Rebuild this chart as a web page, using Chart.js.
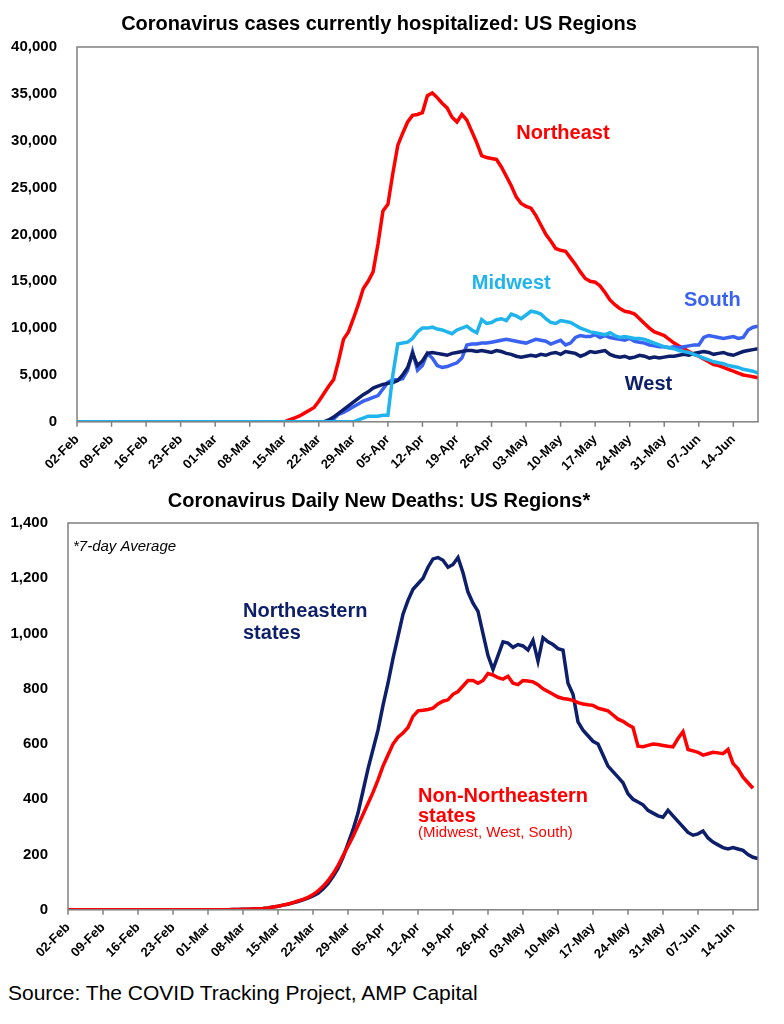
<!DOCTYPE html>
<html><head><meta charset="utf-8">
<script src="https://cdn.jsdelivr.net/npm/chart.js@4"></script>
<style>
body{margin:0;width:784px;height:1024px;background:#fff;position:relative;font-family:Arial,"Liberation Sans",sans-serif}
#c1{position:absolute;left:0;top:0}
#c2{position:absolute;left:0;top:470px}
#src{position:absolute;left:8px;top:981px;font-size:21px;color:#000}
</style></head><body>
<canvas id="c1" width="784" height="476"></canvas>
<canvas id="c2" width="784" height="494"></canvas>
<div id="src">Source: The COVID Tracking Project, AMP Capital</div>
<script>
const START = new Date(2020,1,2);
const N_DAYS = 139;
const MONTHS = ['Jan','Feb','Mar','Apr','May','Jun','Jul'];
function pad(arr, startDay){ const out=[]; for(let i=0;i<startDay;i++) out.push(0); return out.concat(arr); }

// Hospitalized (thousands), from given start day
const northeastHosp = pad([0.2,0.4,0.6,0.9,1.2,1.5,2.2,3.0,3.8,4.5,6.5,8.8,9.6,11.0,12.5,14.2,15.0,16.0,19.0,22.5,23.2,26.5,29.5,30.8,32.0,32.7,32.8,33.0,34.8,35.1,34.6,34.0,33.5,32.5,32.0,32.8,32.2,31.0,29.8,28.4,28.2,28.1,28.0,27.2,26.2,25.2,24.0,23.3,23.0,22.8,22.0,21.0,20.0,19.3,18.5,18.3,18.2,17.5,16.8,16.0,15.3,15.0,14.9,14.5,13.8,13.0,12.5,12.1,11.8,11.7,11.5,11.0,10.5,10.0,9.6,9.4,9.2,8.8,8.4,8.1,7.8,7.5,7.2,7.0,6.7,6.4,6.1,6.0,5.8,5.6,5.4,5.2,5.0,4.9,4.8,4.7],43);
const midwestHosp = pad([0.2,0.4,0.6,0.6,0.6,0.7,0.7,5.0,8.3,8.4,8.5,8.9,9.6,10.0,10.0,10.1,9.9,9.8,9.6,9.4,9.8,10.0,10.2,9.8,9.5,10.9,10.5,10.6,10.9,11.0,10.8,11.5,11.3,11.0,11.4,11.8,11.7,11.5,11.0,10.6,10.5,10.8,10.7,10.6,10.3,10.0,9.8,9.6,9.5,9.4,9.3,9.5,9.2,9.0,9.1,9.0,8.9,8.9,8.8,8.6,8.4,8.2,8.0,7.9,7.8,7.6,7.5,7.4,7.2,7.0,6.8,6.6,6.4,6.3,6.2,6.0,5.9,5.8,5.6,5.5,5.4,5.2],57);
const southHosp = pad([0.3,0.8,1.0,1.3,1.6,1.9,2.2,2.4,2.6,2.8,3.5,4.2,4.5,4.5,4.6,5.5,7.5,5.5,6.0,7.3,6.8,6.0,5.8,5.9,6.1,6.3,6.8,8.2,8.3,8.3,8.4,8.4,8.5,8.6,8.7,8.8,8.7,8.6,8.5,8.4,8.6,8.8,8.7,8.6,8.3,8.5,8.7,8.2,8.4,9.0,9.2,9.1,9.1,9.3,9.0,9.2,9.0,8.9,8.8,8.7,8.9,8.6,8.5,8.4,8.2,8.1,8.0,8.0,7.9,8.0,7.9,8.0,8.1,8.2,8.2,9.0,9.2,9.1,9.0,8.9,9.0,9.1,8.9,9.0,9.8,10.1,10.2],52);
const westHosp = pad([0.2,0.5,0.9,1.3,1.7,2.1,2.5,2.9,3.2,3.6,3.8,4.0,4.1,4.2,4.4,5.0,5.8,7.3,6.0,6.5,7.3,7.4,7.3,7.2,7.1,7.3,7.4,7.5,7.6,7.6,7.5,7.6,7.5,7.4,7.6,7.5,7.3,7.2,7.0,6.9,7.0,7.1,7.0,7.2,7.1,7.3,7.4,7.2,7.5,7.4,7.3,7.0,7.2,7.5,7.4,7.5,7.6,7.2,7.0,6.9,7.0,6.8,6.9,7.1,7.0,6.8,6.9,6.8,6.9,7.0,7.0,7.1,7.2,7.1,7.3,7.4,7.5,7.4,7.2,7.3,7.4,7.2,7.1,7.3,7.5,7.6,7.7,7.8],51);

// Deaths (7-day avg)
const neDeaths = pad([0,0,0,0,0,0,0,0,0,0,0,0,0,0,0,0,0,0,0,0,0,0,0,0,0,0,1,1,2,2,3,4,5,7,10,13,17,20,25,30,36,42,50,60,75,95,120,150,190,240,290,350,430,510,580,650,740,820,910,990,1070,1120,1160,1180,1200,1240,1270,1275,1265,1240,1250,1275,1220,1150,1110,1080,1000,920,870,920,970,965,950,960,955,940,975,900,985,970,960,945,940,820,780,680,650,630,610,600,560,520,500,480,460,420,400,390,380,360,350,340,335,360,340,320,300,280,270,275,285,260,245,235,225,220,225,220,215,200,190,185],7);
const nonNeDeaths = pad([0,0,0,0,0,0,0,0,0,0,0,0,0,0,0,0,0,0,0,0,0,0,0,0,0,0,1,1,2,2,3,4,5,7,10,13,17,21,26,32,38,45,55,68,85,105,130,160,195,230,265,305,345,385,425,470,520,560,600,625,640,660,700,720,722,725,730,745,755,760,780,790,810,830,830,820,830,855,850,840,835,845,820,815,830,828,825,815,800,790,780,770,765,762,758,750,745,742,740,730,725,720,705,690,682,670,660,592,590,595,600,598,595,592,590,620,645,580,575,570,560,565,570,568,565,580,530,510,480,460,440],7);

const hospTicks = [0,5000,10000,15000,20000,25000,30000,35000,40000];
const deathTicks = [0,200,400,600,800,1000,1200,1400];

function dayLabel(d){ const dt=new Date(START.getTime()+d*86400000); return String(dt.getDate()).padStart(2,'0')+'-'+MONTHS[dt.getMonth()]; }
function pts(arr, mul){ return arr.map((v,i)=>({x:i,y:v*mul})); }

const frame = {id:'frame', afterDraw(c){ const a=c.chartArea,g=c.ctx; g.save(); g.strokeStyle='#808080'; g.lineWidth=1.5; g.strokeRect(a.left,a.top,a.right-a.left,a.bottom-a.top);
  for(let d=0; d<N_DAYS; d+=7){ const x=c.scales.x.getPixelForValue(d); g.beginPath(); g.moveTo(x,a.bottom); g.lineTo(x,a.bottom+5); g.stroke(); }
  g.restore(); }};
const labels = {id:'labels', afterDatasetsDraw(c){ const g=c.ctx, xs=c.scales.x, ys=c.scales.y; g.save();
  (c.options.plugins.labels.items||[]).forEach(t=>{ g.font=t.font; g.fillStyle=t.color; g.textAlign=t.align||'left'; g.textBaseline='middle'; g.fillText(t.text, xs.getPixelForValue(t.x), ys.getPixelForValue(t.y)); });
  g.restore(); }};

function makeOpts(title, ticks, yMax, yWidth, items, padTop, titleBottom){
  return {responsive:false, animation:false,
    layout:{padding:{top:padTop,right:26,left:0,bottom:0}},
    plugins:{legend:{display:false}, tooltip:{enabled:false},
      title:{display:true,text:title,color:'#000',font:{family:'Arial',size:20,weight:'bold'},padding:{top:2,bottom:titleBottom}},
      labels:{items}},
    elements:{point:{radius:0}, line:{borderWidth:3.5, tension:0}},
    scales:{
      x:{type:'linear',min:0,max:N_DAYS-1,grid:{display:false},border:{display:false},
        afterBuildTicks(s){ s.ticks=[]; for(let d=0; d<N_DAYS-1; d+=7) s.ticks.push({value:d}); },
        ticks:{color:'#000',font:{family:'Arial',size:13,weight:'bold'},minRotation:45,maxRotation:45,autoSkip:false,padding:2,callback:v=>dayLabel(v)}},
      y:{min:0,max:yMax,grid:{display:false},border:{display:false},
        afterBuildTicks(s){ s.ticks=ticks.map(v=>({value:v})); },
        afterFit(s){ s.width=yWidth; },
        ticks:{color:'#000',font:{family:'Arial',size:15,weight:'bold'},padding:12,callback:v=>v.toLocaleString('en-US')}}
    }};
}

new Chart(document.getElementById('c1'),{type:'line',
  data:{datasets:[
    {data:pts(midwestHosp,1000),borderColor:'#1fb4ee'},
    {data:pts(westHosp,1000),borderColor:'#0d1f6b'},
    {data:pts(southHosp,1000),borderColor:'#3a62f0'},
    {data:pts(northeastHosp,1000),borderColor:'#ff0000'}]},
  options:makeOpts('Coronavirus cases currently hospitalized: US Regions',hospTicks,40000,77,[
    {text:'Northeast',x:89,y:30800,color:'#ff0000',font:'bold 20px Arial'},
    {text:'Midwest',x:80,y:14800,color:'#1fb4ee',font:'bold 20px Arial'},
    {text:'South',x:123,y:12900,color:'#3a62f0',font:'bold 20px Arial'},
    {text:'West',x:111,y:4000,color:'#0d1f6b',font:'bold 20px Arial'}],10,11),
  plugins:[frame,labels]});

new Chart(document.getElementById('c2'),{type:'line',
  data:{datasets:[
    {data:pts(nonNeDeaths,1),borderColor:'#ff0000'},
    {data:pts(neDeaths,1),borderColor:'#0d1f6b'}]},
  options:makeOpts('Coronavirus Daily New Deaths: US Regions*',deathTicks,1400,68,[
    {text:'*7-day Average',x:1,y:1315,color:'#000',font:'italic 15px Arial'},
    {text:'Northeastern',x:35,y:1080,color:'#0d1f6b',font:'bold 20px Arial'},
    {text:'states',x:35,y:1000,color:'#0d1f6b',font:'bold 20px Arial'},
    {text:'Non-Northeastern',x:70,y:410,color:'#ff0000',font:'bold 20px Arial'},
    {text:'states',x:70,y:338,color:'#ff0000',font:'bold 20px Arial'},
    {text:'(Midwest, West, South)',x:70,y:278,color:'#ff0000',font:'15px Arial'}],17,10),
  plugins:[frame,labels]});
</script></body></html>
